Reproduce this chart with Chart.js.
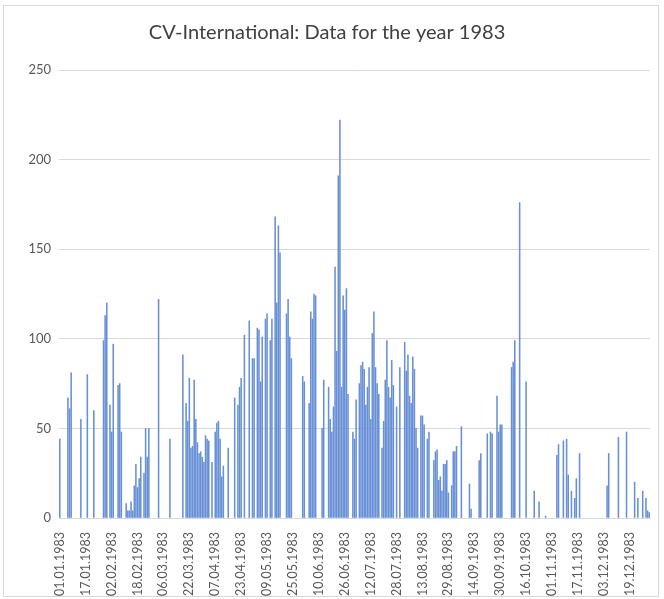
<!DOCTYPE html>
<html>
<head>
<meta charset="utf-8">
<script src="https://cdn.jsdelivr.net/npm/chart.js@4.4.0/dist/chart.umd.min.js"></script>
<style>
  html, body { margin: 0; padding: 0; background: #fff; }
  #box { position: absolute; left: 3px; top: 5px; width: 654px; height: 590px; border: 1px solid #d9d9d9; }
  canvas { display: block; }
</style>
</head>
<body>
<div id="box"><canvas id="cvChart" width="654" height="590"></canvas></div>
<script>
// day of year (0 = 01.01.1983) and value
const barDays = [
  0, 5, 6, 7, 13, 17, 21, 27, 28, 29, 31, 32, 33, 36, 37, 38, 41, 42,
  43, 44, 45, 46, 47, 48, 49, 50, 52, 53, 54, 55, 61, 68, 76, 78, 79, 80,
  81, 82, 83, 84, 85, 86, 87, 88, 89, 90, 91, 92, 94, 96, 97, 98, 99, 100,
  101, 104, 108, 110, 111, 112, 114, 117, 119, 120, 122, 123, 124, 125, 127, 128,
  130, 131, 133, 134, 135, 136, 140, 141, 142, 143, 150, 151, 154, 155, 156, 157,
  158, 162, 163, 166, 167, 168, 169, 170, 171, 172, 173, 174, 175, 176, 177, 178,
  181, 182, 183, 185, 186, 187, 188, 189, 190, 191, 192, 193, 194, 195, 196, 197,
  199, 200, 201, 202, 203, 204, 205, 206, 208, 210, 213, 214, 215, 216, 217, 218,
  219, 220, 221, 223, 224, 225, 227, 228, 231, 232, 233, 234, 235, 236, 237, 238,
  239, 240, 242, 243, 244, 245, 248, 253, 254, 259, 260, 264, 266, 267, 270, 271,
  272, 273, 279, 280, 281, 284, 288, 293, 296, 300, 307, 308, 311, 313, 314, 316,
  318, 319, 321, 338, 339, 345, 350, 355, 357, 360, 362, 363, 364
];
const barValues = [
  44, 67, 61, 81, 55, 80, 60, 99, 113, 120, 63, 48, 97, 74, 75, 48, 8, 4,
  4, 9, 4, 18, 30, 17, 22, 34, 25, 50, 34, 50, 122, 44, 91, 64, 54, 78,
  39, 40, 77, 55, 42, 36, 37, 34, 31, 46, 44, 43, 31, 48, 53, 54, 44, 23,
  29, 39, 67, 63, 73, 78, 102, 110, 89, 89, 106, 105, 76, 101, 111, 114,
  99, 111, 168, 120, 163, 148, 114, 122, 101, 89, 79, 76, 64, 115, 111, 125,
  124, 50, 77, 73, 55, 48, 62, 140, 93, 191, 222, 73, 124, 116, 128, 69,
  48, 44, 66, 75, 85, 87, 83, 63, 73, 84, 55, 103, 115, 84, 75, 69,
  39, 54, 77, 99, 73, 67, 88, 74, 62, 84, 98, 82, 91, 68, 64, 90,
  83, 50, 39, 57, 57, 52, 44, 48, 32, 37, 38, 21, 23, 15, 30, 30,
  32, 14, 18, 37, 37, 40, 51, 19, 5, 32, 36, 47, 48, 47, 68, 48,
  52, 52, 84, 87, 99, 176, 76, 15, 9, 1, 35, 41, 43, 44, 24, 15,
  11, 22, 36, 18, 36, 45, 48, 20, 11, 15, 11, 4, 3
];
const tickLabels = [
  "01.01.1983", "17.01.1983", "02.02.1983", "18.02.1983", "06.03.1983", "22.03.1983",
  "07.04.1983", "23.04.1983", "09.05.1983", "25.05.1983", "10.06.1983", "26.06.1983",
  "12.07.1983", "28.07.1983", "13.08.1983", "29.08.1983", "14.09.1983", "30.09.1983",
  "16.10.1983", "01.11.1983", "17.11.1983", "03.12.1983", "19.12.1983"
];
const TICK_STEP = 16;
const DAY_COUNT = 365;

const pad = n => String(n).padStart(2, "0");
const days = [];
for (let i = 0; i < DAY_COUNT; i++) {
  const d = new Date(1983, 0, 1 + i);
  days.push(`${pad(d.getDate())}.${pad(d.getMonth() + 1)}.${d.getFullYear()}`);
}
const series = new Array(DAY_COUNT).fill(null);
barDays.forEach((day, i) => { series[day] = barValues[i]; });

const FONT = "Lato, 'Open Sans', sans-serif";

new Chart(document.getElementById("cvChart"), {
  type: "bar",
  data: {
    labels: days,
    datasets: [{
      data: series,
      backgroundColor: "#6890d6",
      barThickness: 0.9
    }]
  },
  options: {
    responsive: false,
    animation: false,
    layout: { padding: { left: 0, right: 8, top: 0, bottom: 0 } },
    plugins: {
      legend: { display: false },
      tooltip: { enabled: false },
      title: {
        display: true,
        text: "CV-International: Data for the year 1983",
        color: "#404040",
        font: { family: FONT, size: 20, weight: "normal" },
        padding: { top: 15, bottom: 25 }
      }
    },
    scales: {
      x: {
        grid: { display: false },
        border: { display: true, color: "#d9d9d9" },
        ticks: {
          autoSkip: false,
          minRotation: 90,
          maxRotation: 90,
          padding: 6,
          color: "#595959",
          font: { family: FONT, size: 12.5 },
          callback: (v, i) => (i % TICK_STEP === 0 ? tickLabels[i / TICK_STEP] : null)
        },
        afterFit: s => { s.height = 78; }
      },
      y: {
        min: 0,
        max: 250,
        grid: { color: "#d9d9d9", drawTicks: false },
        border: { display: false },
        ticks: { stepSize: 50, padding: 8, color: "#595959", font: { family: FONT, size: 13 } },
        afterFit: s => { s.width = 55; }
      }
    }
  }
});
</script>
</body>
</html>
